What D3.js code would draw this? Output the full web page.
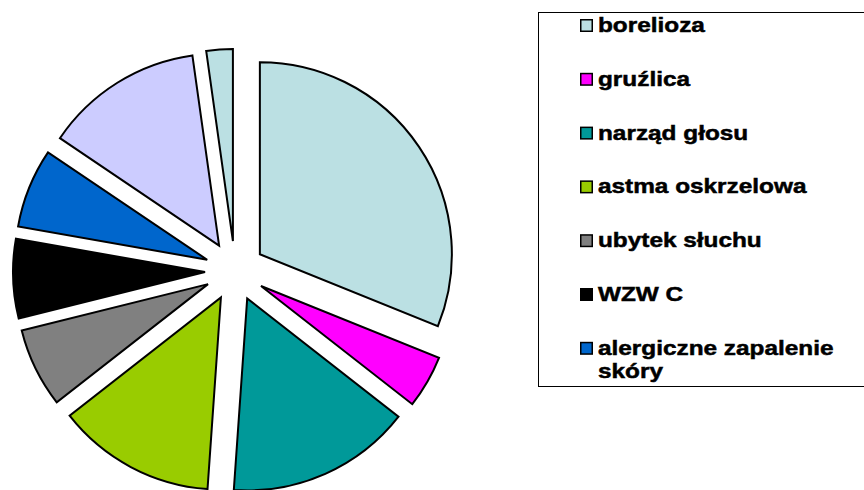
<!DOCTYPE html>
<html>
<head>
<meta charset="utf-8">
<script src="https://cdn.jsdelivr.net/npm/d3@7"></script>
<style>
  body { margin: 0; background: #fff; }
  svg { display: block; }
</style>
</head>
<body>
<svg width="864" height="490"></svg>
<script>
// categories (the last two do not fit in the legend box)
const categories = ['borelioza', 'gruźlica', 'narząd głosu', 'astma oskrzelowa',
  'ubytek słuchu', 'WZW C', 'alergiczne zapalenie skóry', 'pylica płuc', 'inne'];
const values = [14, 2, 7, 6, 3, 3, 3, 6, 1];
const colors = ['#BBE0E3', '#FF00FF', '#009999', '#99CC00',
  '#808080', '#000000', '#0066CC', '#CCCCFF', '#BBE0E3'];

const svg = d3.select('svg');
const cx = 235, cy = 271;
const radius = 192;
const explode = 30;

const data = categories.map((c, i) => ({ name: c, value: values[i], color: colors[i] }));

const pie = d3.pie().sort(null).value(d => d.value);
const arc = d3.arc().innerRadius(0).outerRadius(radius);

const g = svg.append('g').attr('transform', `translate(${cx},${cy})`);

g.selectAll('path').data(pie(data))
  .enter().append('path')
    .attr('d', arc)
    .attr('fill', d => d.data.color)
    .attr('stroke', '#000')
    .attr('stroke-width', 2)
    .attr('stroke-linejoin', 'miter')
    .attr('transform', d => {
      const a = (d.startAngle + d.endAngle) / 2;
      return `translate(${explode * Math.sin(a)},${-explode * Math.cos(a)})`;
    });

// legend
const lx = 538, ly = 12, lh = 374;
svg.append('clipPath').attr('id', 'legclip')
  .append('rect').attr('x', lx).attr('y', ly).attr('width', 864 - lx).attr('height', lh);

svg.append('rect')
  .attr('x', lx + 0.5).attr('y', ly + 0.5)
  .attr('width', 400).attr('height', lh)
  .attr('fill', '#fff').attr('stroke', '#000').attr('stroke-width', 1);

const leg = svg.append('g').attr('clip-path', 'url(#legclip)');
const rowH = 53.8;

const items = leg.selectAll('g.item').data(data)
  .enter().append('g')
    .attr('class', 'item')
    .attr('transform', (d, i) => `translate(580,${32 + i * rowH})`);

items.append('rect')
  .attr('x', 0.75).attr('y', -12.25)
  .attr('width', 11.5).attr('height', 11.5)
  .attr('fill', d => d.color)
  .attr('stroke', '#000').attr('stroke-width', 1.5);

items.each(function (d) {
  const t = d3.select(this).append('text')
    .attr('transform', 'translate(18,0) scale(1.16,1)')
    .attr('font-family', 'Liberation Sans, Arial, sans-serif')
    .attr('font-weight', 'bold')
    .attr('font-size', '21px')
    .attr('fill', '#000')
    .attr('stroke', '#000')
    .attr('stroke-width', 0.5);
  if (d.name === 'alergiczne zapalenie skóry') {
    t.append('tspan').attr('x', 0).attr('y', 0).text('alergiczne zapalenie');
    t.append('tspan').attr('x', 0).attr('y', 23.5).text('skóry');
  } else {
    t.attr('y', 0).text(d.name);
  }
});
</script>
</body>
</html>
